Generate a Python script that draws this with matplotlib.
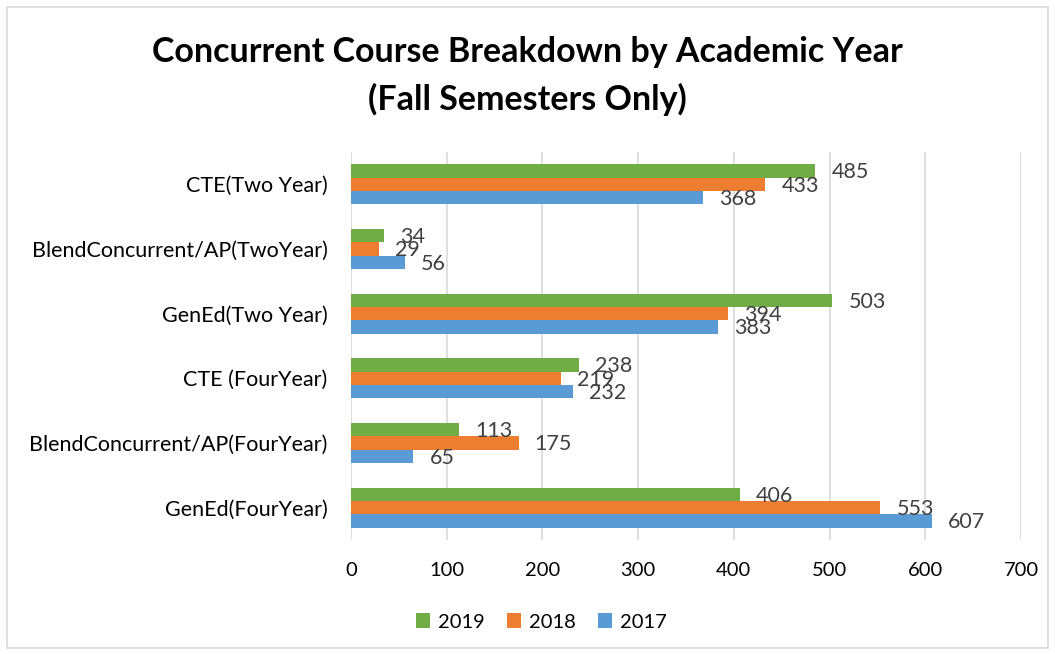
import matplotlib
matplotlib.use("Agg")
import matplotlib.pyplot as plt
from matplotlib.patches import Rectangle
import numpy as np

categories = ["CTE(Two Year)", "BlendConcurrent/AP(TwoYear)", "GenEd(Two Year)",
              "CTE (FourYear)", "BlendConcurrent/AP(FourYear)", "GenEd(FourYear)"]
v2019 = [485, 34, 503, 238, 113, 406]
v2018 = [433, 29, 394, 219, 175, 553]
v2017 = [368, 56, 383, 232, 65, 607]
xticks = [0, 100, 200, 300, 400, 500, 600, 700]

plt.rcParams['font.family'] = ['Lato', 'DejaVu Sans']

fig = plt.figure(figsize=(10.55, 6.54), dpi=100)
ax = fig.add_axes([351/1055, 1-540/654, 670/1055, 388/654])

y = np.arange(len(categories))
h = 0.205
series = [("2019", v2019, "#70AD47", -h), ("2018", v2018, "#ED7D31", 0), ("2017", v2017, "#5B9BD5", h)]
for name, vals, col, off in series:
    bars = ax.barh(y + off, vals, height=h, color=col, label=name, zorder=3)
    for b, v in zip(bars, vals):
        ax.text(v + 17, b.get_y() + b.get_height()/2 + 0.02, str(v), va="center", ha="left",
                fontsize=15.5, color="#404040", zorder=4)

ax.set_ylim(len(categories) - 0.5, -0.5)
ax.set_xlim(0, 700)
ax.set_xticks(xticks)
ax.set_xticklabels([str(t) for t in xticks], fontsize=14.5)
ax.set_yticks(y)
ax.set_yticklabels(categories, fontsize=15.5)
ax.tick_params(axis="y", length=0, pad=17)
ax.tick_params(axis="x", length=0, pad=16)
ax.grid(axis="x", color="#D9D9D9", linewidth=1.2, zorder=0)
for s in ax.spines.values():
    s.set_visible(False)

fig.text(0.5, 1-52/654, "Concurrent Course Breakdown by Academic Year", ha="center", va="center",
         fontsize=24.5, fontweight="bold")
fig.text(0.5, 1-99/654, "(Fall Semesters Only)", ha="center", va="center",
         fontsize=24.5, fontweight="bold")

handles, labels = ax.get_legend_handles_labels()
fig.legend(handles, labels, loc="center", bbox_to_anchor=(0.513, 1-622/654), ncol=3, frameon=False,
           fontsize=14.5, handlelength=0.7, handleheight=0.7, columnspacing=1.1, handletextpad=0.4)

fig.patches.append(Rectangle((7/1055, 1-648/654), 1041/1055, 641/654, transform=fig.transFigure,
                             fill=False, edgecolor="#D9D9D9", linewidth=1.2))

fig.savefig("out.png", dpi=100)
